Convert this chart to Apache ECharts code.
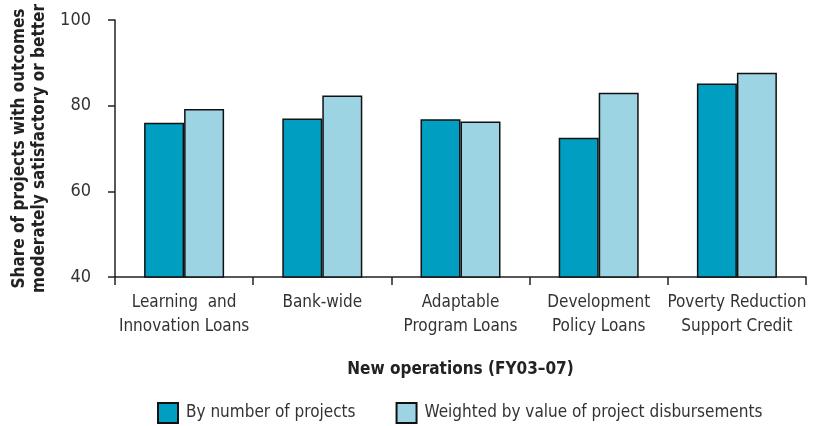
<!DOCTYPE html>
<html>
<head>
<meta charset="utf-8">
<script src="https://cdn.jsdelivr.net/npm/echarts@6/dist/echarts.min.js"></script>
<style>
  html, body { margin: 0; padding: 0; background: #fff; }
  #chart { width: 813px; height: 426px; }
</style>
</head>
<body>
<div id="chart"></div>
<script>
"use strict";

// categories (x axis)
var categories = [
    "Learning  and\nInnovation Loans",
    "Bank-wide",
    "Adaptable\nProgram Loans",
    "Development\nPolicy Loans",
    "Poverty Reduction\nSupport Credit"
];

// series values
var byNumber = [76.0, 77.0, 76.8, 72.5, 85.2];
var weighted = [79.2, 82.4, 76.3, 83.0, 87.7];

var seriesNames = ["By number of projects", "Weighted by value of project disbursements"];

var FONT = "'Liberation Sans Narrow', 'DejaVu Sans Condensed', 'Liberation Sans', sans-serif";

var chart = echarts.init(document.getElementById("chart"));

var option = {
    animation: false,
    textStyle: { fontFamily: FONT },
    grid: {
        left: 115,
        right: 7,
        top: 20,
        bottom: 149,
        outerBoundsMode: "none"
    },
    legend: {
        left: 157,
        bottom: 2,
        padding: 0,
        icon: "rect",
        itemWidth: 20,
        itemHeight: 20,
        itemGap: 40,
        textStyle: { fontFamily: FONT, fontSize: 17, color: "#333", padding: [0, 0, 0, 3] },
        data: seriesNames
    },
    xAxis: {
        type: "category",
        data: categories,
        name: "New operations (FY03–07)",
        nameLocation: "middle",
        nameGap: 84,
        nameTextStyle: { fontFamily: FONT, fontSize: 17, fontWeight: "bold", color: "#222" },
        axisLine: { lineStyle: { color: "#222", width: 1.5 } },
        axisTick: { show: true, length: 8, lineStyle: { color: "#222", width: 1.5 } },
        axisLabel: {
            color: "#333",
            fontSize: 17,
            lineHeight: 24,
            margin: 14,
            interval: 0
        }
    },
    yAxis: {
        type: "value",
        min: 40,
        max: 100,
        interval: 20,
        name: "Share of projects with outcomes\nmoderately satisfactory or better",
        nameLocation: "middle",
        nameGap: 65,
        nameRotate: 90,
        nameTextStyle: { fontFamily: FONT, fontSize: 17, fontWeight: "bold", color: "#222", lineHeight: 20 },
        axisLine: { show: true, lineStyle: { color: "#222", width: 1.5 } },
        axisTick: { show: true, length: 7, lineStyle: { color: "#222", width: 1.5 } },
        axisLabel: { color: "#333", fontSize: 18, margin: 24 },
        splitLine: { show: false }
    },
    series: [
        {
            name: seriesNames[0],
            type: "bar",
            data: byNumber,
            barWidth: 40,
            barGap: "0%",
            itemStyle: { color: "#009fc2", borderColor: "#111", borderWidth: 1.5 }
        },
        {
            name: seriesNames[1],
            type: "bar",
            data: weighted,
            barWidth: 40,
            barGap: "0%",
            itemStyle: { color: "#9dd4e4", borderColor: "#111", borderWidth: 1.5 }
        }
    ]
};

chart.setOption(option);
</script>
</body>
</html>
